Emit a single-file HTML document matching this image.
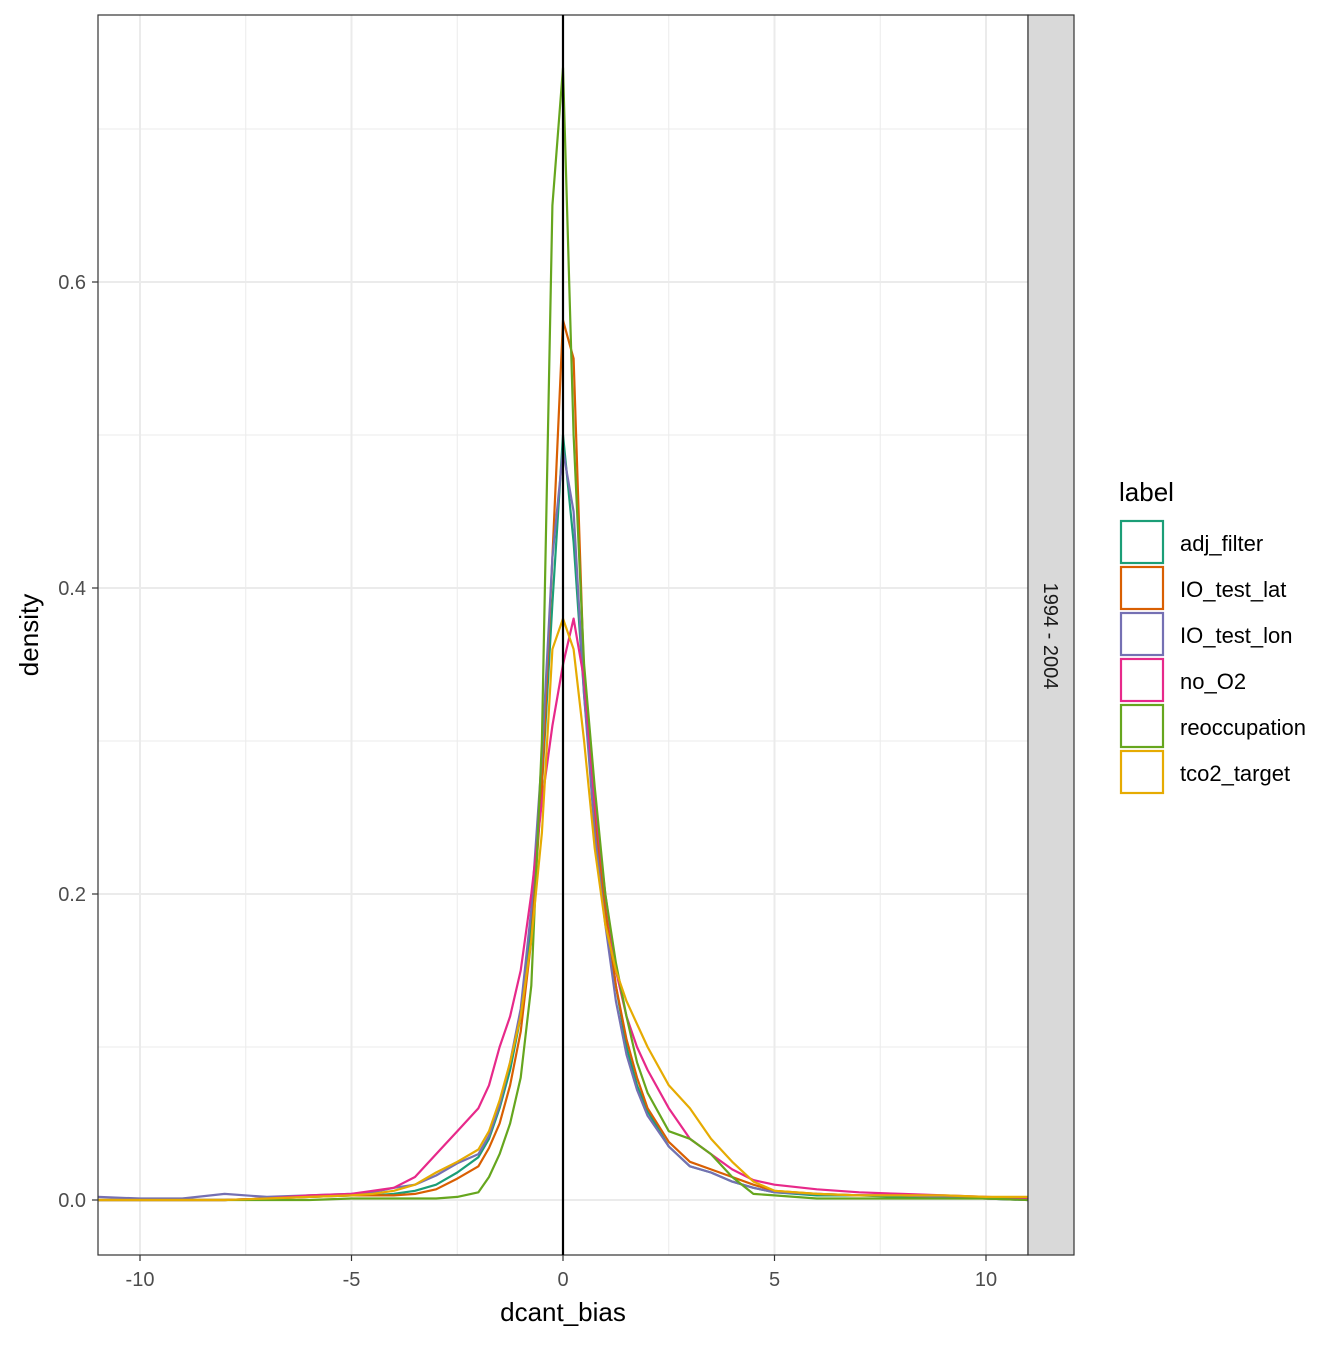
<!DOCTYPE html>
<html><head><meta charset="utf-8"><style>
body{margin:0;background:#fff;}
svg{font-family:"Liberation Sans",sans-serif;}
</style></head><body>
<svg width="1344" height="1344" viewBox="0 0 1344 1344">
<g id="grid"></g>
<g id="series"></g>
<rect x="98" y="15" width="930" height="1240" fill="none" stroke="#333" stroke-width="1.2"/>
<line x1="563" y1="15" x2="563" y2="1255" stroke="#000" stroke-width="2.2"/>
<rect x="1028" y="15" width="46" height="1240" fill="#d9d9d9" stroke="#333" stroke-width="1.2"/>
<text x="1044" y="636" font-size="20" fill="#1a1a1a" text-anchor="middle" transform="rotate(90 1044 636)">1994 - 2004</text>
<g id="axes"></g>
<text x="563" y="1321" font-size="26" text-anchor="middle" fill="#000">dcant_bias</text>
<text x="38" y="635" font-size="26" text-anchor="middle" fill="#000" transform="rotate(-90 38 635)">density</text>
<text x="1119" y="501" font-size="26" fill="#000">label</text>
<g id="legend"></g>
</svg>
<script>
const xs=[-11,-10,-9,-8,-7,-6,-5,-4.5,-4,-3.5,-3,-2.5,-2,-1.75,-1.5,-1.25,-1,-0.75,-0.5,-0.25,0,0.25,0.5,0.75,1,1.25,1.5,1.75,2,2.5,3,3.5,4,4.5,5,6,7,8,9,10,11];
const adjFilter=[0,0,0,0,0.001,0.002,0.003,0.003,0.004,0.006,0.01,0.018,0.028,0.04,0.06,0.085,0.12,0.18,0.27,0.39,0.5,0.43,0.33,0.25,0.19,0.14,0.1,0.075,0.058,0.035,0.022,0.018,0.012,0.008,0.005,0.003,0.003,0.002,0.002,0.001,0];
const ioTestLat=[0,0,0,0,0.001,0.002,0.003,0.003,0.003,0.004,0.007,0.014,0.022,0.034,0.05,0.075,0.11,0.17,0.27,0.42,0.575,0.55,0.34,0.25,0.19,0.14,0.105,0.08,0.06,0.038,0.025,0.02,0.015,0.01,0.006,0.004,0.003,0.003,0.002,0.001,0.001];
const ioTestLon=[0.002,0.001,0.001,0.004,0.002,0.003,0.004,0.005,0.008,0.01,0.016,0.024,0.03,0.042,0.062,0.09,0.125,0.19,0.29,0.42,0.49,0.45,0.33,0.24,0.18,0.13,0.095,0.072,0.055,0.035,0.022,0.018,0.012,0.008,0.005,0.004,0.003,0.003,0.002,0.001,0];
const noO2=[0,0,0,0,0.001,0.003,0.004,0.006,0.008,0.015,0.03,0.045,0.06,0.075,0.1,0.12,0.15,0.2,0.26,0.31,0.35,0.38,0.34,0.26,0.2,0.15,0.12,0.1,0.085,0.06,0.04,0.03,0.02,0.013,0.01,0.007,0.005,0.004,0.003,0.002,0.001];
const reoccupation=[0,0,0,0,0,0,0.001,0.001,0.001,0.001,0.001,0.002,0.005,0.015,0.03,0.05,0.08,0.14,0.3,0.65,0.74,0.5,0.35,0.27,0.2,0.155,0.12,0.09,0.07,0.045,0.04,0.03,0.015,0.004,0.003,0.001,0.001,0.001,0.001,0.001,0];
const tco2Target=[0,0,0,0,0.001,0.002,0.003,0.004,0.006,0.01,0.018,0.025,0.033,0.045,0.065,0.09,0.12,0.17,0.24,0.36,0.38,0.36,0.3,0.23,0.18,0.15,0.13,0.115,0.1,0.075,0.06,0.04,0.025,0.012,0.006,0.004,0.003,0.003,0.003,0.002,0.002];
const seriesNames=["adj_filter","IO_test_lat","IO_test_lon","no_O2","reoccupation","tco2_target"];
const seriesData=[adjFilter,ioTestLat,ioTestLon,noO2,reoccupation,tco2Target];
const colors=["#1b9e77","#d95f02","#7570b3","#e7298a","#66a61e","#e6ab02"];
const xTicks=[-10,-5,0,5,10];
const yTicks=[0,0.2,0.4,0.6];
const NS="http://www.w3.org/2000/svg";
const sx=v=>563+v*42.3;
const sy=v=>1200-v*1530;
function mk(tag,attrs,parent){const e=document.createElementNS(NS,tag);for(const k in attrs)e.setAttribute(k,attrs[k]);parent.appendChild(e);return e;}
const grid=document.getElementById('grid'),axes=document.getElementById('axes');
mk('rect',{x:98,y:15,width:930,height:1240,fill:'#fff'},grid);
for(let v=-10;v<=10;v+=2.5){const l=mk('line',{x1:sx(v),x2:sx(v),y1:15,y2:1255,stroke:'#ebebeb','stroke-width':(v%5===0)?2:1},grid);

}
for(let v=0;v<=0.7;v+=0.1){const l=mk('line',{x1:98,x2:1028,y1:sy(v),y2:sy(v),stroke:'#ebebeb','stroke-width':(Math.round(v*10)%2===0)?2:1},grid);

}
xTicks.forEach(v=>{mk('line',{x1:sx(v),x2:sx(v),y1:1255,y2:1261,stroke:'#333','stroke-width':1.2},axes);
const t=mk('text',{x:sx(v),y:1286,'font-size':20,fill:'#4d4d4d','text-anchor':'middle'},axes);t.textContent=v;

});
yTicks.forEach(v=>{mk('line',{x1:92,x2:98,y1:sy(v),y2:sy(v),stroke:'#333','stroke-width':1.2},axes);
const t=mk('text',{x:86,y:sy(v)+7,'font-size':20,fill:'#4d4d4d','text-anchor':'end'},axes);t.textContent=v.toFixed(1);

});
const sg=document.getElementById('series');
const clip=mk('clipPath',{id:'pc'},sg);mk('rect',{x:98,y:15,width:930,height:1240},clip);
seriesData.forEach((d,i)=>{const p=d.map((v,j)=>(j?'L':'M')+sx(xs[j]).toFixed(1)+','+sy(v).toFixed(1)).join('');
const path=mk('path',{d:p,fill:'none',stroke:colors[i],'stroke-width':2.2,'clip-path':'url(#pc)','stroke-linejoin':'round'},sg);

});
const lg=document.getElementById('legend');
seriesNames.forEach((n,i)=>{const y=521+i*46;
const r=mk('rect',{x:1121,y:y,width:42,height:42,fill:'#fff',stroke:colors[i],'stroke-width':2.2},lg);


const t=mk('text',{x:1180,y:y+30,'font-size':22,fill:'#000'},lg);t.textContent=n;

});
</script>
</body></html>
